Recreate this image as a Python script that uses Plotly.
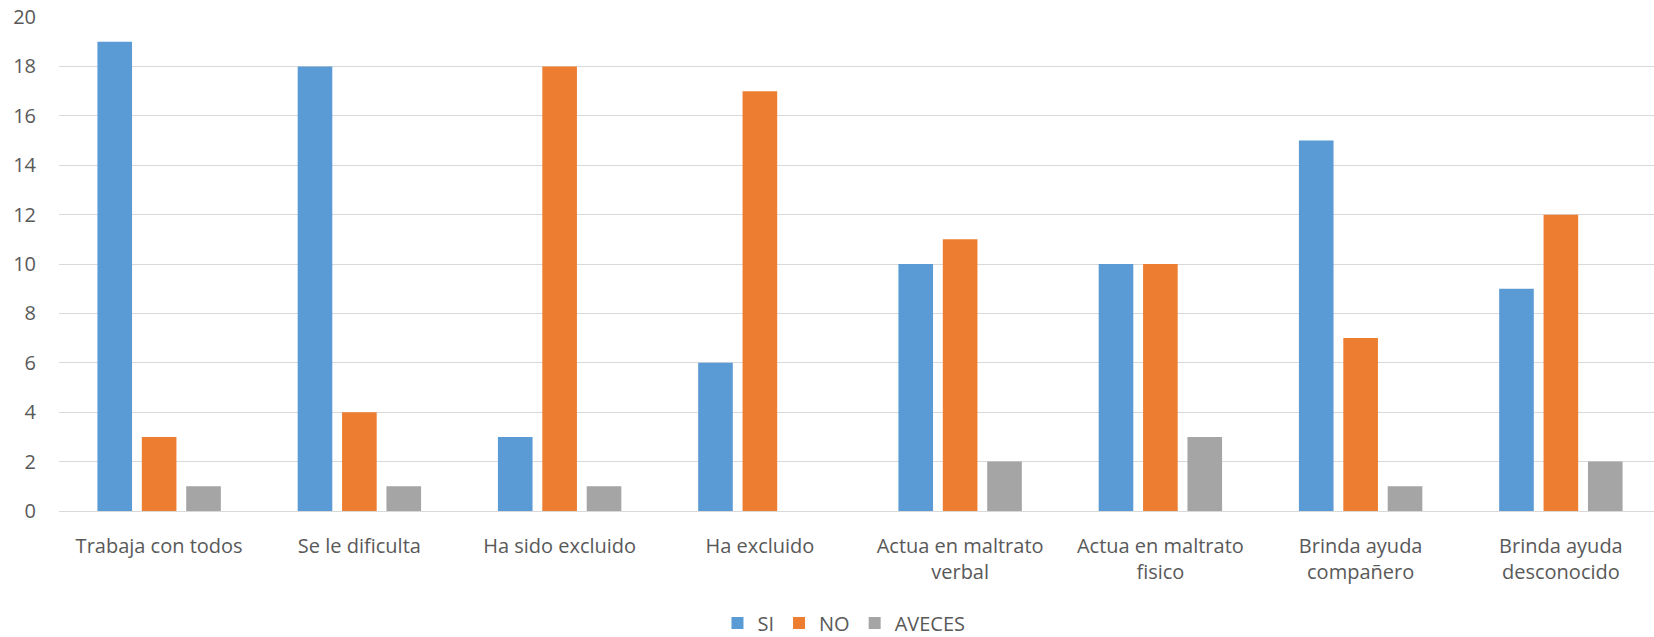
import plotly.graph_objects as go

categories = ["Trabaja con todos", "Se le dificulta", "Ha sido excluido", "Ha excluido",
              "Actua en maltrato<br>verbal", "Actua en maltrato<br>fisico",
              "Brinda ayuda<br>compañero", "Brinda ayuda<br>desconocido"]
si = [19, 18, 3, 6, 10, 10, 15, 9]
no = [3, 4, 18, 17, 11, 10, 7, 12]
aveces = [1, 1, 1, 0, 2, 3, 1, 2]
y_ticks = [0, 2, 4, 6, 8, 10, 12, 14, 16, 18, 20]

fig = go.Figure()
fig.add_bar(name="SI", x=categories, y=si, marker=dict(color="#5B9BD5", line=dict(width=0)))
fig.add_bar(name="NO", x=categories, y=no, marker=dict(color="#ED7D31", line=dict(width=0)))
fig.add_bar(name="AVECES", x=categories, y=aveces, marker=dict(color="#A5A5A5", line=dict(width=0)))

font_family = "'Open Sans', 'Noto Sans', sans-serif"
fig.update_layout(
    width=1662, height=637,
    margin=dict(l=59, r=1, t=17, b=126),
    paper_bgcolor="white", plot_bgcolor="white",
    barmode="group", bargap=0.335, bargroupgap=0.22,
    font=dict(family=font_family, size=20, color="#595959"),
    showlegend=True,
    legend=dict(orientation="h", x=0.49, xanchor="center",
                yref="container", y=0.022, yanchor="middle",
                font=dict(size=20, color="#595959"),
                traceorder="normal"),
    hovermode=False,
)
fig.update_yaxes(range=[0, 20.002], tickvals=y_ticks, showgrid=True, gridcolor="#D9D9D9",
                 gridwidth=1.3, zeroline=False, showline=False, ticks="",
                 ticklabelstandoff=22, automargin=False, ticklabeloverflow="allow",
                 tickfont=dict(size=20, color="#595959"))
fig.update_xaxes(showline=True, linecolor="#D9D9D9", linewidth=1.3, ticks="",
                 showgrid=False, automargin=False, ticklabeloverflow="allow",
                 tickfont=dict(size=20, color="#595959"),
                 ticklabelstandoff=17)

fig.write_html("out.html", config={"displayModeBar": False},
               post_script="document.body.style.margin='0px';document.body.style.overflow='hidden';")
